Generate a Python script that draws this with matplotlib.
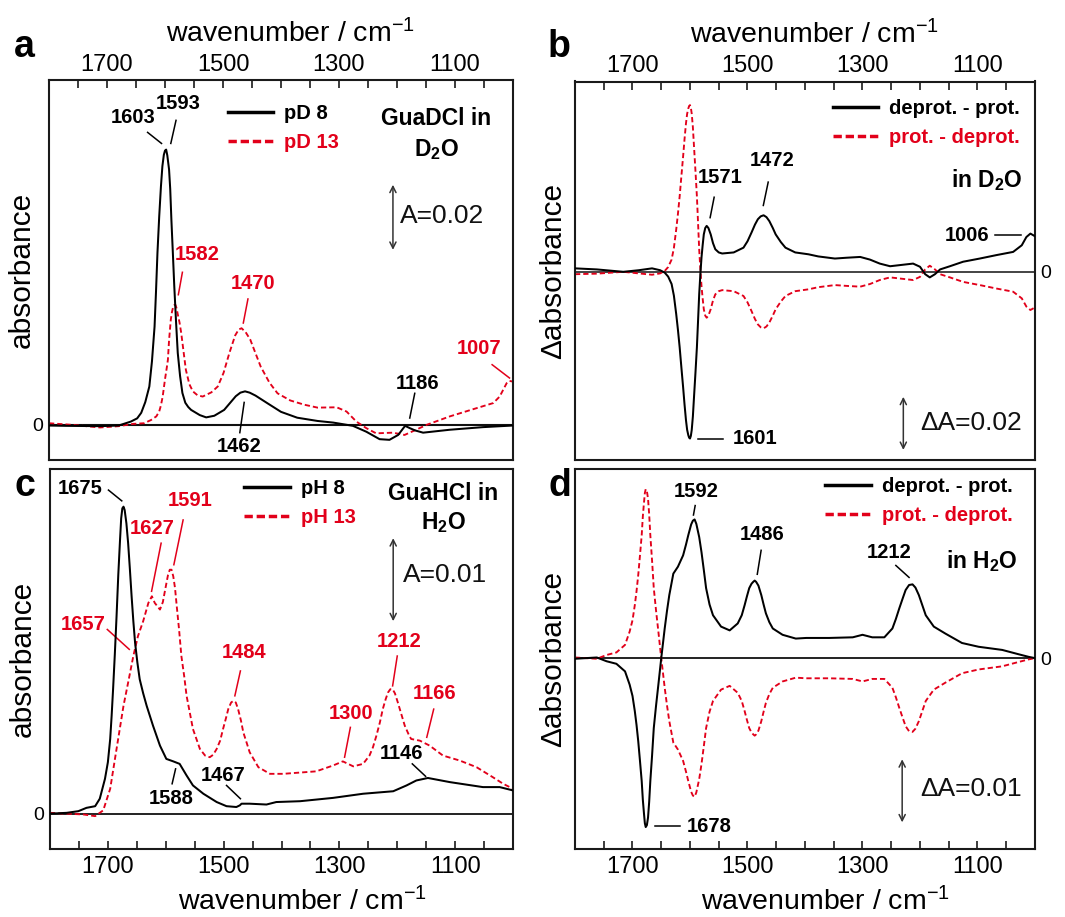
import numpy as np
import matplotlib
matplotlib.use("Agg")
import matplotlib.pyplot as plt
from matplotlib.lines import Line2D
from matplotlib.ticker import FixedLocator, MultipleLocator

plt.rcParams['font.family'] = ['Liberation Sans', 'DejaVu Sans']
plt.rcParams['mathtext.fontset'] = 'custom'
plt.rcParams['mathtext.rm'] = 'Liberation Sans'
plt.rcParams['mathtext.default'] = 'regular'

RED = '#e2001a'

# ---------------- panel a: GuaDCl in D2O ----------------
a_pd8_wn = [1800, 1770, 1712, 1680, 1659, 1648, 1641, 1634, 1627, 1622.5, 1618, 1615.5, 1613, 1610,
            1607, 1604.5, 1602, 1600, 1598, 1596, 1593, 1591, 1589, 1586.5, 1584, 1581, 1578, 1574,
            1570, 1565, 1560, 1555, 1540, 1529, 1515, 1498, 1478, 1470, 1462, 1454, 1444, 1423,
            1400, 1372, 1337, 1310, 1276, 1253, 1230, 1213, 1198, 1186, 1178, 1169, 1155, 1109,
            1052, 1000]
a_pd8_A = [-0.0002, -0.0003, -0.0004, -0.0002, 0.0010, 0.0020, 0.0037, 0.0070, 0.0118, 0.0195,
           0.0302, 0.0410, 0.0529, 0.0640, 0.0733, 0.0795, 0.0830, 0.0843, 0.0846, 0.0828,
           0.0785, 0.0725, 0.0631, 0.0530, 0.0426, 0.0318, 0.0221, 0.0150, 0.0098, 0.0068,
           0.0055, 0.0046, 0.0030, 0.0023, 0.0028, 0.0046, 0.0088, 0.0099, 0.0103, 0.0099,
           0.0090, 0.0066, 0.0040, 0.0022, 0.0012, 0.0007, -0.0003, -0.0021, -0.0044, -0.0046,
           -0.0031, -0.0003, -0.0010, -0.0017, -0.0024, -0.0015, -0.0007, -0.0002]
a_pd13_wn = [1800, 1760, 1712, 1680, 1655, 1636, 1624, 1615, 1610, 1607, 1604, 1600, 1597, 1595,
             1593, 1590, 1588, 1586, 1584, 1582, 1580, 1578, 1575, 1572, 1568, 1564, 1558, 1552,
             1544, 1535, 1520, 1509, 1499, 1489, 1479, 1473, 1468, 1461, 1453, 1445, 1435, 1420,
             1406, 1384, 1360, 1337, 1304, 1287, 1270, 1253, 1236, 1207, 1187, 1167, 1149, 1109,
             1069, 1034, 1023, 1011, 1006, 1000]
a_pd13_A = [0.0005, 0.0000, -0.0008, -0.0004, 0.0003, 0.0005, 0.0015, 0.0026, 0.0041, 0.0060,
            0.0087, 0.0140, 0.0175, 0.0200, 0.0260, 0.0323, 0.0347, 0.0362, 0.0368, 0.0369,
            0.0358, 0.0340, 0.0315, 0.0282, 0.0225, 0.0169, 0.0125, 0.0103, 0.0091, 0.0087,
            0.0100, 0.0118, 0.0160, 0.0221, 0.0275, 0.0293, 0.0297, 0.0285, 0.0262, 0.0225,
            0.0179, 0.0130, 0.0097, 0.0075, 0.0062, 0.0053, 0.0054, 0.0041, 0.0010, -0.0010,
            -0.0026, -0.0024, -0.0031, -0.0015, 0.0000, 0.0026, 0.0048, 0.0067, 0.0087, 0.0128,
            0.0135, 0.0133]

# ---------------- panel b: difference spectra in D2O ----------------
b_wn = [1800, 1762, 1716, 1689, 1666, 1652, 1644, 1638, 1632, 1628, 1624, 1621, 1618, 1615,
        1612, 1609.5, 1607, 1605, 1603, 1601.5, 1600, 1598.5, 1597, 1595, 1593, 1590.5, 1588, 1586,
        1584, 1582, 1580, 1578, 1576, 1573.5, 1571, 1568, 1564, 1560, 1556, 1550, 1544, 1524,
        1507, 1500, 1493, 1487, 1482, 1477, 1472, 1467, 1462, 1456, 1451, 1442, 1434, 1417,
        1394, 1377, 1348, 1328, 1304, 1287, 1270, 1252, 1212, 1200, 1191, 1183, 1174, 1165,
        1148, 1125, 1096, 1067, 1038, 1023, 1015, 1008, 1000]
b_deprot_dA = [0.0013, 0.0009, 0.0000, 0.0006, 0.0013, 0.0006, -0.0003, -0.0018, -0.0046, -0.0090,
               -0.0159, -0.0218, -0.0284, -0.0360, -0.0434, -0.0500, -0.0559, -0.0595, -0.0615, -0.0625,
               -0.0628, -0.0618, -0.0596, -0.0545, -0.0471, -0.0380, -0.0284, -0.0185, -0.0084, -0.0010,
               0.0054, 0.0100, 0.0141, 0.0165, 0.0173, 0.0165, 0.0141, 0.0108, 0.0085, 0.0073,
               0.0069, 0.0073, 0.0091, 0.0115, 0.0148, 0.0178, 0.0198, 0.0209, 0.0213, 0.0206,
               0.0191, 0.0165, 0.0141, 0.0112, 0.0091, 0.0073, 0.0066, 0.0058, 0.0050, 0.0053,
               0.0056, 0.0046, 0.0031, 0.0021, 0.0031, 0.0019, -0.0009, -0.0021, -0.0009, 0.0009,
               0.0021, 0.0038, 0.0050, 0.0063, 0.0075, 0.0100, 0.0131, 0.0144, 0.0134]
b_prot_dA = [-0.0009, -0.0007, 0.0000, -0.0006, -0.0011, -0.0006, 0.0003, 0.0018, 0.0046, 0.0090,
             0.0159, 0.0218, 0.0284, 0.0360, 0.0434, 0.0500, 0.0559, 0.0595, 0.0615, 0.0625,
             0.0628, 0.0618, 0.0596, 0.0545, 0.0471, 0.0380, 0.0284, 0.0185, 0.0084, 0.0010,
             -0.0054, -0.0100, -0.0141, -0.0165, -0.0173, -0.0165, -0.0141, -0.0108, -0.0085, -0.0073,
             -0.0069, -0.0073, -0.0091, -0.0115, -0.0148, -0.0178, -0.0198, -0.0209, -0.0213, -0.0206,
             -0.0191, -0.0165, -0.0141, -0.0112, -0.0091, -0.0073, -0.0066, -0.0058, -0.0050, -0.0053,
             -0.0056, -0.0046, -0.0031, -0.0021, -0.0031, -0.0019, 0.0009, 0.0023, 0.0009, -0.0009,
             -0.0021, -0.0038, -0.0050, -0.0063, -0.0075, -0.0100, -0.0131, -0.0144, -0.0134]

# ---------------- panel c: GuaHCl in H2O ----------------
c_ph8_wn = [1800, 1771, 1751, 1737, 1722, 1714, 1705, 1700, 1696, 1693.5, 1691, 1688, 1685, 1682,
            1679, 1677, 1675, 1673, 1671, 1668, 1665, 1662, 1659, 1656, 1653, 1649, 1645, 1639,
            1633, 1622, 1610, 1599, 1587, 1576, 1564, 1553, 1535, 1512, 1495, 1478, 1472, 1469,
            1455, 1426, 1409, 1368, 1311, 1259, 1207, 1184, 1167, 1147, 1109, 1052, 1023, 1000]
c_ph8_A = [0.0000, 0.0001, 0.0003, 0.0007, 0.0009, 0.0018, 0.0042, 0.0062, 0.0090, 0.0118,
           0.0150, 0.0192, 0.0238, 0.0288, 0.0330, 0.0356, 0.0368, 0.0370, 0.0366, 0.0350,
           0.0326, 0.0295, 0.0262, 0.0232, 0.0206, 0.0182, 0.0162, 0.0145, 0.0130, 0.0106,
           0.0082, 0.0066, 0.0063, 0.0060, 0.0046, 0.0034, 0.0024, 0.0014, 0.0009, 0.0008,
           0.0010, 0.0012, 0.0012, 0.0011, 0.0014, 0.0015, 0.0019, 0.0024, 0.0027, 0.0034,
           0.0040, 0.0043, 0.0038, 0.0032, 0.0032, 0.0028]
c_ph13_wn = [1800, 1771, 1742, 1722, 1708, 1696, 1685, 1673, 1665, 1656, 1648, 1639, 1630, 1624,
             1619, 1610, 1605, 1601, 1596, 1593, 1590, 1587, 1584, 1581, 1577, 1573, 1568, 1564,
             1553, 1541, 1532, 1524, 1518, 1512, 1506, 1501, 1496, 1492, 1487, 1483, 1479, 1475,
             1470, 1466, 1460, 1455, 1440, 1420, 1397, 1340, 1311, 1294, 1276, 1259, 1248, 1242,
             1236, 1230, 1225, 1220, 1216, 1212, 1208, 1204, 1199, 1193, 1187, 1180, 1176, 1161,
             1144, 1121, 1092, 1063, 1035, 1017, 1000]
c_ph13_A = [0.0001, 0.0000, -0.0001, -0.0003, 0.0004, 0.0030, 0.0078, 0.0130, 0.0158, 0.0190,
            0.0214, 0.0232, 0.0254, 0.0262, 0.0254, 0.0246, 0.0255, 0.0270, 0.0288, 0.0294,
            0.0294, 0.0286, 0.0272, 0.0250, 0.0222, 0.0190, 0.0165, 0.0142, 0.0102, 0.0078,
            0.0070, 0.0068, 0.0071, 0.0078, 0.0088, 0.0102, 0.0115, 0.0126, 0.0134, 0.0136,
            0.0134, 0.0126, 0.0112, 0.0098, 0.0085, 0.0074, 0.0056, 0.0048, 0.0048, 0.0051,
            0.0058, 0.0063, 0.0057, 0.0060, 0.0070, 0.0080, 0.0094, 0.0110, 0.0126, 0.0138,
            0.0146, 0.0150, 0.0150, 0.0145, 0.0134, 0.0120, 0.0106, 0.0095, 0.0090, 0.0088,
            0.0082, 0.0070, 0.0064, 0.0056, 0.0044, 0.0036, 0.0030]

# ---------------- panel d: difference spectra in H2O ----------------
d_wn = [1800, 1762, 1745, 1728, 1713, 1705, 1700, 1696, 1693, 1690, 1687, 1684, 1682, 1680,
        1678.5, 1677, 1675, 1673, 1671, 1669, 1666, 1663, 1659, 1655, 1650, 1644, 1640, 1636,
        1629, 1621, 1612, 1607, 1603, 1598, 1595, 1592, 1589, 1584, 1580, 1576, 1572, 1566,
        1560, 1546, 1531, 1517, 1510, 1505, 1501, 1497, 1493, 1490, 1487.5, 1485, 1481, 1476,
        1472, 1468, 1462, 1456, 1439, 1416, 1398, 1358, 1317, 1300, 1283, 1262, 1248, 1242,
        1236, 1230, 1225, 1219, 1213, 1208, 1202, 1196, 1190, 1176, 1156, 1127, 1098, 1057,
        1028, 1011, 1000]
d_deprot_dA = [-0.0001, 0.0001, -0.0005, -0.0009, -0.0021, -0.0042, -0.0060, -0.0084, -0.0106, -0.0132,
               -0.0163, -0.0195, -0.0225, -0.0247, -0.0262, -0.0268, -0.0265, -0.0253, -0.0228, -0.0195,
               -0.0155, -0.0111, -0.0075, -0.0042, 0.0000, 0.0047, 0.0075, 0.0100, 0.0134, 0.0145,
               0.0163, 0.0180, 0.0195, 0.0212, 0.0218, 0.0220, 0.0213, 0.0192, 0.0168, 0.0140,
               0.0111, 0.0085, 0.0068, 0.0050, 0.0044, 0.0055, 0.0068, 0.0084, 0.0098, 0.0111,
               0.0118, 0.0121, 0.0123, 0.0121, 0.0115, 0.0100, 0.0085, 0.0071, 0.0057, 0.0047,
               0.0037, 0.0031, 0.0032, 0.0032, 0.0033, 0.0037, 0.0033, 0.0033, 0.0047, 0.0062,
               0.0079, 0.0095, 0.0108, 0.0116, 0.0117, 0.0112, 0.0100, 0.0084, 0.0068, 0.0050,
               0.0039, 0.0024, 0.0018, 0.0013, 0.0006, 0.0002, 0.0000]
d_prot_dA = [0.0001, -0.0001, 0.0005, 0.0009, 0.0021, 0.0042, 0.0060, 0.0084, 0.0106, 0.0132,
             0.0163, 0.0195, 0.0225, 0.0247, 0.0262, 0.0268, 0.0265, 0.0253, 0.0228, 0.0195,
             0.0155, 0.0111, 0.0075, 0.0042, 0.0000, -0.0047, -0.0075, -0.0100, -0.0134, -0.0145,
             -0.0163, -0.0180, -0.0195, -0.0212, -0.0218, -0.0220, -0.0213, -0.0192, -0.0168, -0.0140,
             -0.0111, -0.0085, -0.0068, -0.0050, -0.0044, -0.0055, -0.0068, -0.0084, -0.0098, -0.0111,
             -0.0118, -0.0121, -0.0123, -0.0121, -0.0115, -0.0100, -0.0085, -0.0071, -0.0057, -0.0047,
             -0.0037, -0.0031, -0.0032, -0.0032, -0.0033, -0.0037, -0.0033, -0.0033, -0.0047, -0.0062,
             -0.0079, -0.0095, -0.0108, -0.0116, -0.0117, -0.0112, -0.0100, -0.0084, -0.0068, -0.0050,
             -0.0039, -0.0024, -0.0018, -0.0013, -0.0006, -0.0002, 0.0000]

major_ticks = [1700, 1500, 1300, 1100]
tick_labels = ['1700', '1500', '1300', '1100']

# peak labels: (text, text_x, text_y, line_x0, line_y0, line_x1, line_y1, color, ha)
a_labels = [('1603', 1655, 0.0944, 1630, 0.0899, 1606, 0.0865, 'k', 'center'),
            ('1593', 1578, 0.0988, 1581, 0.0936, 1590, 0.0865, 'k', 'center'),
            ('1582', 1544, 0.0525, 1570, 0.0469, 1577, 0.0400, RED, 'center'),
            ('1470', 1448, 0.0436, 1457, 0.0387, 1465, 0.0313, RED, 'center'),
            ('1462', 1472, -0.0065, 1463.5, 0.0069, 1471, -0.0024, 'k', 'center'),
            ('1186', 1165, 0.0128, 1169.4, 0.0097, 1178, 0.0021, 'k', 'center'),
            ('1007', 1059, 0.0234, 1036, 0.0185, 1006, 0.0144, RED, 'center')]
b_labels = [('1571', 1547, 0.0356, 1558, 0.0281, 1565, 0.0204, 'k', 'center'),
            ('1472', 1458, 0.0419, 1464, 0.0338, 1472.5, 0.0250, 'k', 'center'),
            ('1006', 1079, 0.0138, 1070, 0.0138, 1025, 0.0138, 'k', 'right'),
            ('1601', 1525, -0.0629, 1585.5, -0.0629, 1542, -0.0629, 'k', 'left')]
c_labels = [('1675', 1748, 0.0392, 1699, 0.0390, 1676, 0.0377, 'k', 'center'),
            ('1627', 1623, 0.0344, 1608, 0.0326, 1624.5, 0.0268, RED, 'center'),
            ('1591', 1558, 0.0378, 1570, 0.0354, 1586, 0.0300, RED, 'center'),
            ('1657', 1742, 0.0228, 1701, 0.0222, 1663, 0.0198, RED, 'center'),
            ('1484', 1464.5, 0.0194, 1471, 0.0172, 1480.6, 0.0142, RED, 'center'),
            ('1300', 1279, 0.0121, 1281, 0.0104, 1291, 0.0068, RED, 'center'),
            ('1212', 1196, 0.0207, 1200, 0.0190, 1208, 0.0154, RED, 'center'),
            ('1166', 1135, 0.0145, 1137, 0.0126, 1149, 0.0092, RED, 'center'),
            ('1146', 1193, 0.0073, 1174, 0.0060, 1151, 0.0045, 'k', 'center'),
            ('1467', 1500, 0.0046, 1495, 0.0034, 1471, 0.0018, 'k', 'center'),
            ('1588', 1590, 0.0018, 1583, 0.0054, 1589, 0.0036, 'k', 'center')]
d_labels = [('1592', 1589, 0.0264, 1591, 0.0242, 1594, 0.0227, 'k', 'center'),
            ('1486', 1475, 0.0196, 1476.3, 0.0171, 1483, 0.0133, 'k', 'center'),
            ('1212', 1254, 0.0168, 1242, 0.0147, 1219, 0.0128, 'k', 'center'),
            ('1678', 1606, -0.0267, 1661, -0.0267, 1618, -0.0267, 'k', 'left')]

W, H = 1065, 917
fig = plt.figure(figsize=(W / 100, H / 100), dpi=100)
axa = fig.add_axes([49 / W, 1 - 460 / H, 464 / W, 380 / H])
axb = fig.add_axes([575 / W, 1 - 460 / H, 460 / W, 378.5 / H])
axc = fig.add_axes([50 / W, 1 - 848.5 / H, 463 / W, 380 / H])
axd = fig.add_axes([575 / W, 1 - 848.5 / H, 460 / W, 379.5 / H])

SOLID = dict(color='k', lw=1.45, solid_joinstyle='round')
DASH = dict(color=RED, lw=1.35, dashes=(2.8, 1.6))


def style(ax, top, right0, ylim, ylabel, zero_lw):
    ax.set_xlim(1800, 1000)
    ax.set_ylim(*ylim)
    for s in ax.spines.values():
        s.set_linewidth(1.5)
        s.set_color('#1a1a1a')
    ax.xaxis.set_major_locator(FixedLocator(major_ticks))
    ax.set_xticklabels(tick_labels)
    ax.xaxis.set_minor_locator(MultipleLocator(50))
    ax.tick_params(axis='x', which='both', direction='in', length=6, width=1.2,
                   labelsize=17, top=top, bottom=not top, labeltop=top, labelbottom=not top,
                   pad=3 if top else 5.7, color='#1a1a1a')
    ax.set_xlabel('wavenumber / cm$^{-1}$', fontsize=20.5)
    if top:
        ax.xaxis.set_label_position('top')
    ax.set_yticks([0])
    ax.set_yticklabels(['0'])
    ax.tick_params(axis='y', length=0, labelsize=14, pad=4,
                   left=False, right=False, labelleft=not right0, labelright=right0)
    ax.set_ylabel(ylabel, fontsize=21.5)
    ax.yaxis.set_label_position('left')
    ax.axhline(0, color='#111111', lw=zero_lw, zorder=1)


def peak_labels(ax, labels):
    for t, tx, ty, x0, y0, x1, y1, c, ha in labels:
        ax.text(tx, ty, t, color=c, fontsize=14.5, fontweight='bold', ha=ha, va='center')
        ax.plot([x0, x1], [y0, y1], color=c, lw=1.1)


def legend(ax, labels, anchor):
    h = [Line2D([], [], color='k', lw=2.5),
         Line2D([], [], color=RED, lw=2.5, dashes=(2.4, 1.1))]
    leg = ax.legend(h, labels, loc='upper left', bbox_to_anchor=anchor, frameon=False,
                    prop=dict(size=14.5, weight='bold'), handlelength=2.25, handletextpad=0.55,
                    labelspacing=0.48, borderpad=0, borderaxespad=0)
    leg.get_texts()[1].set_color(RED)


def scalebar(ax, x, y0, y1, text, tx, ty):
    ax.annotate('', xy=(x, y0), xytext=(x, y1),
                arrowprops=dict(arrowstyle='<->', color='#333333', lw=1.1,
                                mutation_scale=11, shrinkA=0, shrinkB=0))
    ax.text(tx, ty, text, fontsize=19, ha='left', va='center', color='#111111')


# panel a
axa.plot(a_pd8_wn, a_pd8_A, **SOLID, zorder=3)
axa.plot(a_pd13_wn, a_pd13_A, **DASH, zorder=2)
style(axa, True, False, (-0.0108, 0.106), 'absorbance', 1.5)
peak_labels(axa, a_labels)
legend(axa, ['pD 8', 'pD 13'], (0.385, 0.937))
axa.text(0.835, 0.899, 'GuaDCl in', transform=axa.transAxes, fontsize=16.5,
         fontweight='bold', ha='center', va='center')
axa.text(0.835, 0.818, 'D$_2$O', transform=axa.transAxes, fontsize=16.5,
         fontweight='bold', ha='center', va='center')
scalebar(axa, 1207, 0.0538, 0.0738, 'A=0.02', 1195, 0.0643)

# panel b
axb.plot(b_wn, b_deprot_dA, **SOLID, zorder=3)
axb.plot(b_wn, b_prot_dA, **DASH, zorder=2)
style(axb, True, True, (-0.0709, 0.0717), '\u0394absorbance', 1.1)
peak_labels(axb, b_labels)
legend(axb, ['deprot. - prot.', 'prot. - deprot.'], (0.560, 0.953))
axb.text(0.973, 0.74, 'in D$_2$O', transform=axb.transAxes, fontsize=16.5,
         fontweight='bold', ha='right', va='center')
scalebar(axb, 1229, -0.0671, -0.0471, '\u0394A=0.02', 1200, -0.0571)

# panel c
axc.plot(c_ph8_wn, c_ph8_A, **SOLID, zorder=3)
axc.plot(c_ph13_wn, c_ph13_A, **DASH, zorder=2)
style(axc, False, False, (-0.0042, 0.0416), 'absorbance', 1.3)
peak_labels(axc, c_labels)
legend(axc, ['pH 8', 'pH 13'], (0.42, 0.972))
axc.text(0.849, 0.934, 'GuaHCl in', transform=axc.transAxes, fontsize=16.5,
         fontweight='bold', ha='center', va='center')
axc.text(0.849, 0.857, 'H$_2$O', transform=axc.transAxes, fontsize=16.5,
         fontweight='bold', ha='center', va='center')
scalebar(axc, 1207, 0.0232, 0.0332, 'A=0.01', 1190, 0.0288)

# panel d
axd.plot(d_wn, d_deprot_dA, **SOLID, zorder=3)
axd.plot(d_wn, d_prot_dA, **DASH, zorder=2)
style(axd, False, True, (-0.0302, 0.0300), '\u0394absorbance', 1.3)
peak_labels(axd, d_labels)
legend(axd, ['deprot. - prot.', 'prot. - deprot.'], (0.544, 0.979))
axd.text(0.962, 0.757, 'in H$_2$O', transform=axd.transAxes, fontsize=16.5,
         fontweight='bold', ha='right', va='center')
scalebar(axd, 1231, -0.02605, -0.01605, '\u0394A=0.01', 1199, -0.0208)

# label positions
axa.xaxis.set_label_coords(0.52, 1.10)
axb.xaxis.set_label_coords(0.52, 1.10)
axc.xaxis.set_label_coords(0.545, -0.102)
axd.xaxis.set_label_coords(0.545, -0.102)
axa.yaxis.set_label_coords(-0.028, 0.5)
axc.yaxis.set_label_coords(-0.028, 0.5)
axb.yaxis.set_label_coords(-0.018, 0.5)
axd.yaxis.set_label_coords(-0.018, 0.5)

for lab, x, y in [('a', 14, 57), ('b', 548, 57), ('c', 14, 496), ('d', 548, 496)]:
    fig.text(x / W, 1 - y / H, lab, fontsize=27, fontweight='bold', ha='left', va='baseline')

fig.savefig('out.png', dpi=100)
